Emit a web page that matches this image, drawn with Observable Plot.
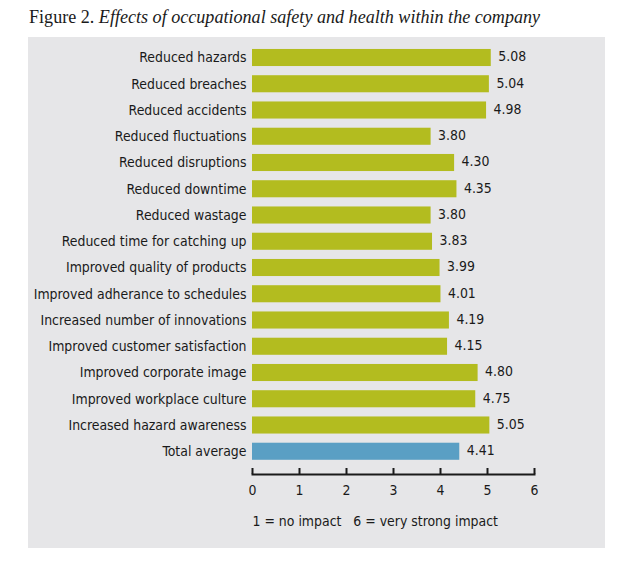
<!DOCTYPE html>
<html>
<head>
<meta charset="utf-8">
<script src="https://cdn.jsdelivr.net/npm/d3@7"></script>
<script src="https://cdn.jsdelivr.net/npm/@observablehq/plot@0.6"></script>
<style>
  html, body { margin: 0; padding: 0; background: #ffffff; }
  body { width: 638px; height: 561px; position: relative; overflow: hidden; }
  #title { position: absolute; left: 29px; top: 7px; font-family: "Liberation Serif", "DejaVu Serif", serif; font-size: 18.1px; color: #1a1a1a; white-space: nowrap; }
  #title i { font-style: italic; }
  #panel { position: absolute; left: 28px; top: 37px; width: 577px; height: 511px; background: #e6e6e8; }
  #panel svg { display: block; }
</style>
</head>
<body>
<div id="title">Figure 2. <i>Effects of occupational safety and health within the company</i></div>
<div id="panel"></div>
<script>
const categories = [
  "Reduced hazards",
  "Reduced breaches",
  "Reduced accidents",
  "Reduced fluctuations",
  "Reduced disruptions",
  "Reduced downtime",
  "Reduced wastage",
  "Reduced time for catching up",
  "Improved quality of products",
  "Improved adherance to schedules",
  "Increased number of innovations",
  "Improved customer satisfaction",
  "Improved corporate image",
  "Improved workplace culture",
  "Increased hazard awareness",
  "Total average"
];
const values = [5.08, 5.04, 4.98, 3.80, 4.30, 4.35, 3.80, 3.83, 3.99, 4.01, 4.19, 4.15, 4.80, 4.75, 5.05, 4.41];
const groups = categories.map((c, i) => i === categories.length - 1 ? "total" : "item");
const xTicks = [0, 1, 2, 3, 4, 5, 6];
const noteText = ["1 = no impact\u00a0\u00a0\u00a06 = very strong impact"];

const data = categories.map((c, i) => ({category: c, value: values[i], group: groups[i]}));

const font = "'Liberation Sans Narrow', 'DejaVu Sans Condensed', sans-serif";
const fs = 13.9;
const W = 577, H = 511;
const step = 26.25;
const yTop = 20.5 - step / 2;
const axisY = 437;

const chart = Plot.plot({
  width: W,
  height: H,
  marginLeft: 224,
  marginRight: 71,
  marginTop: 0,
  marginBottom: H - axisY,
  style: {background: "transparent", fontFamily: font, fontSize: fs + "px", color: "#1a1a1a"},
  x: {domain: [0, 6], ticks: xTicks, label: null},
  y: {domain: categories, range: [yTop, yTop + step * categories.length], paddingInner: 0.35, paddingOuter: 0.175, round: false, label: null},
  color: {domain: ["item", "total"], range: ["#b3bc1f", "#5a9fc4"]},
  marks: [
    Plot.barX(data, {x: "value", y: "category", fill: "group"}),
    Plot.text(data, {x: "value", y: "category", text: d => d.value.toFixed(2), textAnchor: "start", dx: 7, dy: -1, fontSize: fs, fill: "#1a1a1a"}),
    Plot.frame({anchor: "bottom", stroke: "#1a1a1a", strokeWidth: 2}),
    Plot.ruleX(xTicks, {x: d => d, insetTop: axisY - 6, stroke: "#1a1a1a", strokeWidth: 2}),
    Plot.axisX({anchor: "bottom", tickSize: 0, tickPadding: 11, fontSize: fs, ticks: xTicks, tickFormat: d => String(d), label: null}),
    Plot.axisY({anchor: "left", tickSize: 0, tickPadding: 6, fontSize: fs, label: null}),
    Plot.text(noteText, {x: () => 0, frameAnchor: "bottom", textAnchor: "start", dy: 51, fontSize: fs, fill: "#1a1a1a"})
  ]
});
document.getElementById("panel").appendChild(chart);
</script>
</body>
</html>
